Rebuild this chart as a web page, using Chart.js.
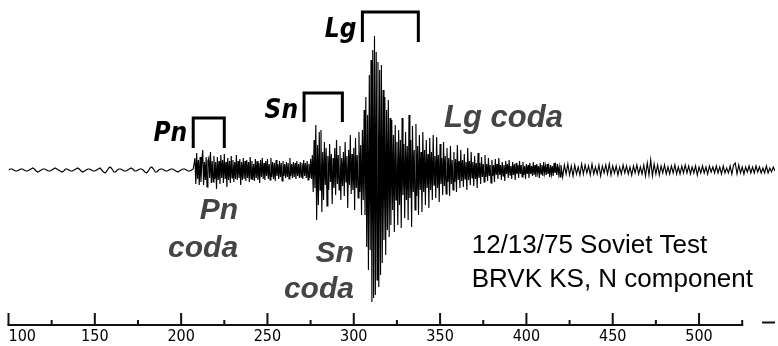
<!DOCTYPE html>
<html><head><meta charset="utf-8">
<script src="https://cdn.jsdelivr.net/npm/chart.js@4.4.1/dist/chart.umd.min.js"></script>
<style>html,body{margin:0;padding:0;background:#fff}#wrap{width:778px;height:346px;position:relative}</style>
</head><body><div id="wrap"><canvas id="c"></canvas></div>
<script>
// ---- data: three recorded segments (start time s, sample step s, amplitudes) ----
const segmentStart = [100, 208, 420];
const segmentStep  = [1, 0.5, 1];
const preEventNoise = [
  0, 1, 1, 0, -1, -1, 0, 1, 1, 0,
  -1, -1, 0, 1, 2, 1, -1, -2, -1, 0,
  1, 1, 0, -1, -1, 0, 1, 2, 1, 0,
  -1, -2, -1, 1, 1, 0, -1, -1, 0, 1,
  2, 1, -1, -2, -1, 0, 1, 1, 0, -1,
  -1, 0, 1, 2, 0, -2, -3, -1, 2, 3,
  1, -2, -2, 0, 1, 1, 0, -1, -1, 0,
  1, 2, 1, -1, -1, 0, 1, 1, 0, -2,
  -3, -1, 2, 3, 1, -2, -2, 0, 1, 1,
  0, -1, -1, 0, 1, 1, 0, -1, -2, -1,
  0, 1, 1, 0, -1, -1, 0, 1
];
const phaseSignal = [
  // Pn + Pn coda (208-268)
  12,-14, 17,-9, 10,-15, 13,-12, 9,20, -15,8, -10,13, -17,9, 12,-8, 18,-13,
  9,-12, 14,-9, 8,-19, 13,-10, 9,-14, 15,-8, 10,-13, 16,-9, 8,-17, 12,-10,
  9,-13, 14,-8, 10,-12, 8,-9, 15,-10, 9,-8, 11,-15, 8,-10, 12,-9, 9,-11,
  10,-8, 8,-12, 13,-9, 9,-10, 6,-11, 11,-8, 9,-10, 7,-13, 10,-7, 12,-9,
  7,-10, 9,-6, 11,-9, 6,-10, 12,-7, 8,-9, 7,-11, 10,-6, 6,-9, 9,-7,
  7,-11, 9,-6, 6,-8, 8,-7, 7,-9, 12,-6, 6,-8, 8,-7, 7,-9, 9,-6,
  6,-8,
  // 269-275
  8,-7, 7,-9, 10,-6, 7,-8, 9,-10, 6,-8, 11,-9,
  // Sn + Sn coda (276-305)
  15,-22, 30,-18, 45,-50, 25,-35, 38,-20, 40,-42, 18,-30, 28,-15, 22,-36, 14,-20,
  26,-12, 16,-34, 12,-18, 22,-25, 30,-14, 15,-20, 24,-30, 12,-16, 18,-26, 28,-12,
  14,-38, 20,-15, 35,-24, 16,-20, 22,-40, 32,-18, 15,-28, 38,-22, 25,-45, 40,-30,
  // Lg (306-321)
  60,-45, 73,-77, 55,-100, 95,-80, 110,-132, 120,-128, 134,-125, 118,-110,
  108,-117, 100,-105, 105,-93, 80,-70, 73,-85, 60,-60, 70,-67, 52,-55,
  // Lg coda (322-381)
  50,-40, 35,-62, 45,-30, 28,-55, 40,-35, 30,-58, 52,-25, 26,-48, 38,-30, 24,-50,
  55,-28, 30,-57, 44,-22, 20,-40, 46,-26, 24,-45, 35,-20, 18,-42, 38,-22, 20,-35,
  30,-18, 16,-38, 32,-20, 18,-30, 35,-15, 14,-28, 33,-18, 15,-32, 26,-14, 12,-25,
  28,-16, 14,-24, 22,-12, 12,-26, 24,-14, 10,-20, 18,-12, 11,-22, 25,-10, 9,-18,
  20,-11, 10,-17, 16,-9, 8,-20, 22,-10, 9,-15, 18,-8, 8,-16, 14,-9, 7,-18,
  17,-8, 7,-14, 13,-7, 6,-12, 15,-7, 6,-11, 12,-6, 5,-13, 10,-6, 5,-12,
  // 382-419
  11,-5, 6,-9, 12,-5, 5,-10, 8,-6, 5,-11, 9,-4, 6,-8, 10,-5, 4,-9,
  8,-5, 6,-10, 7,-4, 5,-8, 9,-4, 5,-7, 8,-5, 4,-9, 6,-4, 5,-8,
  7,-4, 4,-6, 8,-5, 5,-7, 6,-3, 4,-8, 7,-4, 5,-6, 8,-3, 4,-5,
  6,-4, 3,-7, 5,-4, 4,-6, 7,-3, 4,-5, 6,-4, 3,-7
];
const lateCoda = [
  5, -7,
  5, -4, 6, -5, 4, -6, 5, -4, 3, -5,
  6, -4, 5, -3, 4, -5, 6, -4, 3, -4,
  5, -6, 4, -3, 5, -4, 6, -5, 4, -3,
  4, -5, 3, -4, 5, -3, 4, -4, 3, -5,
  4, -3, 5, -4, 3, -4, 5, -6, 7, -5,
  10, -6, 6, -4, 5, -5, 4, -3, 5, -4,
  3, -4, 4, -3, 5, -4, 3, -4, 4, -3,
  5, -3, 4, -4, 3, -3, 4, -5, 3, -3,
  4, -3, 3, -4, 4, -2, 3, -3, 4, -3,
  3, -4, 4, -3, 2, -3, 4, -4, 5, 7,
  -4, 5, -3, 3, -4, 3, -2, 4, -3, 3,
  -3, 4, -2, 3, -3, 2, -3, 4, -3, 2,
  -2, 3, -1
];
const tickLabels = [100, 150, 200, 250, 300, 350, 400, 450, 500];
// phase windows (time in s)
const phaseNames = ['Pn', 'Sn', 'Lg'];
const phaseStart = [207, 271.2, 305];
const phaseEnd   = [225, 293.4, 337.4];
const codaTexts  = [['Pn', 'coda'], ['Sn', 'coda'], ['Lg coda']];
const infoLines  = ['12/13/75 Soviet Test', 'BRVK KS, N component'];

// ---- layout of annotations (scale units) ----
const bracketTop    = [52, 77, 158];
const bracketBottom = [22, 48, 128];
const phaseLabelBase = [29, 52, 133];
const codaAnchorX = [233, 300.1, 352.3];
const codaAlign   = ['right', 'right', 'left'];
const codaBase    = [[-49, -87], [-91.7, -128.3], [43.3]];
const infoX = 368.3;
const infoBase = [-83.3, -116.7];

const points = [];
[preEventNoise, phaseSignal, lateCoda].forEach((seg, k) => {
  seg.forEach((v, i) => points.push({ x: segmentStart[k] + i * segmentStep[k], y: v }));
});

const overlay = {
  id: 'overlay',
  afterDatasetsDraw(chart) {
    const { ctx, chartArea: a, scales: { x, y } } = chart;
    ctx.save();
    // axis line + tick marks
    ctx.strokeStyle = '#111';
    ctx.lineWidth = 2;
    const yb = a.bottom;
    ctx.beginPath();
    ctx.moveTo(x.getPixelForValue(100) - 1, yb);
    ctx.lineTo(x.getPixelForValue(525) + 1, yb);
    ctx.stroke();
    x.ticks.forEach(t => {
      if (t.value > 525) return;
      const px = x.getPixelForValue(t.value);
      const len = t.value % 50 === 0 ? 12 : 5;
      ctx.beginPath(); ctx.moveTo(px, yb); ctx.lineTo(px, yb - len); ctx.stroke();
    });
    ctx.beginPath();
    ctx.moveTo(x.getPixelForValue(536.5), yb - 2.5);
    ctx.lineTo(a.right, yb - 2.5);
    ctx.stroke();

    // phase brackets
    ctx.lineWidth = 3;
    ctx.strokeStyle = '#000';
    ctx.lineJoin = 'miter';
    phaseNames.forEach((n, i) => {
      const x0 = x.getPixelForValue(phaseStart[i]), x1 = x.getPixelForValue(phaseEnd[i]);
      const yt = y.getPixelForValue(bracketTop[i]), ybt = y.getPixelForValue(bracketBottom[i]);
      ctx.beginPath();
      ctx.moveTo(x0, ybt); ctx.lineTo(x0, yt); ctx.lineTo(x1, yt); ctx.lineTo(x1, ybt);
      ctx.stroke();
      ctx.font = 'italic bold 26px "DejaVu Sans Condensed", "DejaVu Sans", sans-serif';
      ctx.fillStyle = '#000';
      ctx.textAlign = 'right';
      ctx.textBaseline = 'alphabetic';
      ctx.fillText(n, x0 - 6, y.getPixelForValue(phaseLabelBase[i]));
    });

    // coda labels
    ctx.fillStyle = '#444';
    codaTexts.forEach((lines, i) => {
      ctx.textAlign = codaAlign[i];
      ctx.font = lines.length === 1 ? 'italic bold 31px "Liberation Sans", Arial, sans-serif' : 'italic bold 30px "Liberation Sans", Arial, sans-serif';
      lines.forEach((s, j) => ctx.fillText(s, x.getPixelForValue(codaAnchorX[i]), y.getPixelForValue(codaBase[i][j])));
    });

    // info text
    ctx.font = '26px "Liberation Sans", Arial, sans-serif';
    ctx.fillStyle = '#000';
    ctx.textAlign = 'left';
    infoLines.forEach((s, j) => ctx.fillText(s, x.getPixelForValue(infoX), y.getPixelForValue(infoBase[j])));
    ctx.restore();
  }
};

new Chart(document.getElementById('c'), {
  type: 'line',
  data: { datasets: [{ data: points, borderColor: '#000', borderWidth: 1.15, pointRadius: 0, tension: 0, fill: false }] },
  options: {
    responsive: true, maintainAspectRatio: false, animation: false, devicePixelRatio: 1,
    layout: { padding: { left: 8.5, right: 3, top: 5, bottom: 0 } },
    plugins: { legend: { display: false }, tooltip: { enabled: false } },
    scales: {
      x: {
        type: 'linear', min: 100, max: 544,
        grid: { display: false, drawTicks: false }, border: { display: false },
        afterFit: s => { s.paddingLeft = 0; s.paddingRight = 0; s.height = 21; },
        ticks: {
          stepSize: 25, includeBounds: false, autoSkip: false, maxRotation: 0, minRotation: 0, padding: 4,
          color: '#000',
          font: { family: '"DejaVu Sans Condensed", "DejaVu Sans", sans-serif', size: 16, lineHeight: 1 },
          callback: v => tickLabels.includes(v) ? (v === tickLabels[0] ? '\u2007\u2007\u2007' + v : String(v)) : ''
        }
      },
      y: { display: false, min: -155, max: 165 }
    }
  },
  plugins: [overlay]
});
</script></body></html>
